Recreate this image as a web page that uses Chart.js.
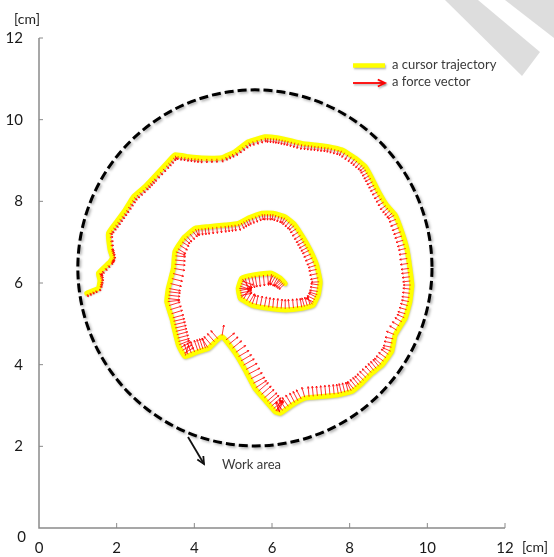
<!DOCTYPE html>
<html><head><meta charset="utf-8">
<script src="https://cdn.jsdelivr.net/npm/chart.js@4/dist/chart.umd.min.js"></script>
<style>html,body{margin:0;padding:0;background:#fff}#wrap{width:554px;height:557px;position:relative}</style>
</head><body><div id="wrap"><canvas id="c" width="554" height="557"></canvas></div>
<script>
// ---- data ----
const trajX = [1.23,1.53,1.57,1.53,1.83,1.89,1.83,1.79,2.00,2.22,2.43,2.73,2.94,3.25,3.50,3.85,4.19,4.71,5.05,5.39,5.82,6.12,6.42,6.77,7.11,7.45,7.80,8.14,8.40,8.57,8.74,8.95,9.17,9.34,9.47,9.55,9.60,9.55,9.43,9.17,9.08,8.83,8.57,8.31,8.05,7.71,7.28,6.85,6.51,6.21,6.08,5.86,5.56,5.31,5.05,4.71,4.36,4.10,3.76,3.59,3.50,3.42,3.29,3.33,3.46,3.50,3.72,4.02,4.36,4.79,5.13,5.39,5.74,6.03,6.34,6.59,6.81,6.98,7.15,7.24,7.19,7.06,6.77,6.34,5.91,5.48,5.18,5.13,5.22,5.56,5.99,6.21,6.34];
const trajY = [5.75,5.87,6.07,6.24,6.52,6.62,6.81,7.22,7.50,7.79,8.11,8.36,8.57,8.89,9.14,9.09,9.06,9.07,9.22,9.46,9.58,9.56,9.50,9.42,9.38,9.34,9.26,9.06,8.85,8.57,8.24,7.91,7.67,7.26,6.85,6.36,5.95,5.54,5.14,4.73,4.32,3.99,3.79,3.54,3.34,3.26,3.22,3.18,3.01,2.81,2.85,3.09,3.42,3.87,4.29,4.69,4.40,4.32,4.20,4.48,4.81,5.14,5.54,5.87,6.36,6.77,7.10,7.34,7.38,7.42,7.46,7.59,7.71,7.71,7.62,7.42,7.10,6.81,6.44,6.03,5.71,5.46,5.38,5.34,5.38,5.46,5.63,5.87,6.12,6.20,6.24,6.12,5.99];
// force magnitude (cm of arrow length) at each trajectory point, pointing inward
const forceMag = [0.10,0.09,0.10,0.11,0.10,0.09,0.10,0.11,
 0.12,0.12,0.13,0.12,0.12,0.13,0.12,0.12,0.13,0.12,0.12,0.13,
 0.14,0.15,0.15,0.16,0.15,0.15,0.16,
 0.18,0.18,0.19,0.18,0.20,0.21,
 0.22,0.22,0.23,0.22,0.22,0.23,0.24,
 0.25,0.26,0.25,0.26,0.27,
 0.28,0.28,0.29,0.30,0.30,
 0.34,0.35,0.36,0.35,0.33,0.30,
 0.30,0.31,0.30,
 0.31,0.32,0.32,0.33,0.32,0.30,0.28,
 0.22,0.20,0.20,0.19,0.19,0.18,
 0.18,0.18,0.19,0.20,
 0.22,0.22,0.23,0.23,0.24,0.25,
 0.26,0.27,0.28,0.28,0.30,
 0.34,0.34,0.32,0.30,0.26,0.22];
const xTicks = [0,2,4,6,8,10,12];
const yTicks = [0,2,4,6,8,10,12];
const workCenter = [5.56, 6.37];
const workRadius = [4.56, 4.36];
const legendLabels = ['a cursor trajectory', 'a force vector'];
const workLabel = 'Work area';
const unitLabel = '[cm]';

const FONT = 'Lato, "Open Sans", sans-serif';
const trajData = trajX.map((x, i) => ({x, y: trajY[i]}));

function arrow(ctx, x0, y0, x1, y1, head) {
  ctx.beginPath(); ctx.moveTo(x0, y0); ctx.lineTo(x1, y1); ctx.stroke();
  const a = Math.atan2(y1 - y0, x1 - x0);
  ctx.beginPath();
  ctx.moveTo(x1 - head * Math.cos(a - 0.45), y1 - head * Math.sin(a - 0.45));
  ctx.lineTo(x1, y1);
  ctx.lineTo(x1 - head * Math.cos(a + 0.45), y1 - head * Math.sin(a + 0.45));
  ctx.stroke();
}

const overlay = {
  id: 'overlay',
  beforeDatasetsDraw(chart) {
    const {ctx, chartArea: ca, scales: {x, y}} = chart;
    ctx.save();
    // axes
    ctx.strokeStyle = '#8a8a8a'; ctx.lineWidth = 1.5;
    ctx.beginPath(); ctx.moveTo(ca.left, ca.top); ctx.lineTo(ca.left, ca.bottom); ctx.lineTo(ca.right, ca.bottom); ctx.stroke();
    ctx.lineWidth = 1;
    xTicks.slice(1).forEach(v => { const p = x.getPixelForValue(v); ctx.beginPath(); ctx.moveTo(p, ca.bottom); ctx.lineTo(p, ca.bottom - 5); ctx.stroke(); });
    yTicks.slice(1).forEach(v => { const p = y.getPixelForValue(v); ctx.beginPath(); ctx.moveTo(ca.left, p); ctx.lineTo(ca.left + 4, p); ctx.stroke(); });
    // y "0" label sits a little below the axis in the reference
    ctx.fillStyle = '#1a1a1a'; ctx.font = '15px ' + FONT; ctx.textAlign = 'right'; ctx.textBaseline = 'middle';
    ctx.fillText(String(yTicks[0]), ca.left - 13, y.getPixelForValue(yTicks[0]) + 9);
    // work area circle
    const cx = x.getPixelForValue(workCenter[0]), cy = y.getPixelForValue(workCenter[1]);
    const rx = x.getPixelForValue(workCenter[0] + workRadius[0]) - cx;
    const ry = cy - y.getPixelForValue(workCenter[1] + workRadius[1]);
    ctx.setLineDash([9, 4]);
    ctx.lineWidth = 3;
    ctx.strokeStyle = '#000';
    ctx.shadowColor = 'rgba(0,0,0,0.35)'; ctx.shadowBlur = 3; ctx.shadowOffsetX = 1.5; ctx.shadowOffsetY = 1.5;
    ctx.beginPath(); ctx.ellipse(cx, cy, rx, ry, 0, 0, Math.PI * 2); ctx.stroke();
    ctx.restore();
  },
  beforeDatasetDraw(chart) {
    const ctx = chart.ctx;
    ctx.save();
    ctx.shadowColor = 'rgba(90,90,0,0.35)'; ctx.shadowBlur = 2; ctx.shadowOffsetX = 0.5; ctx.shadowOffsetY = 1;
  },
  afterDatasetDraw(chart) {
    chart.ctx.restore();
  },
  afterDatasetsDraw(chart) {
    const {ctx, chartArea: ca, scales: {x, y}} = chart;
    const unit = x.getPixelForValue(1) - x.getPixelForValue(0);
    const P = trajX.map((v, i) => [x.getPixelForValue(v), y.getPixelForValue(trajY[i])]);
    ctx.save();
    ctx.strokeStyle = 'rgba(255,0,0,0.8)'; ctx.lineWidth = 1;
    const n = P.length;
    const SUB = 4;
    for (let i = 0; i < n; i++) {
      const steps = i < n - 1 ? SUB : 1;
      for (let s = 0; s < steps; s++) {
        const t = s / SUB;
        let px, py, tx, ty, m;
        if (s === 0) {
          const a = P[Math.max(0, i - 1)], b = P[Math.min(n - 1, i + 1)];
          tx = b[0] - a[0]; ty = b[1] - a[1];
          px = P[i][0]; py = P[i][1]; m = forceMag[i];
        } else {
          const a = P[i], b = P[i + 1];
          tx = b[0] - a[0]; ty = b[1] - a[1];
          px = a[0] + tx * t; py = a[1] + ty * t;
          m = forceMag[i] * (1 - t) + forceMag[i + 1] * t;
        }
        const L = Math.hypot(tx, ty) || 1;
        const nx = -ty / L, ny = tx / L;
        const len = m * unit;
        arrow(ctx, px + nx, py + ny, px + nx * len, py + ny * len, 2);
      }
    }
    ctx.restore();

    // legend
    ctx.save();
    ctx.shadowColor = 'rgba(0,0,0,0.3)'; ctx.shadowBlur = 2; ctx.shadowOffsetX = 1; ctx.shadowOffsetY = 1.5;
    ctx.strokeStyle = '#ffff00'; ctx.lineWidth = 4.5;
    ctx.beginPath(); ctx.moveTo(353, 65.5); ctx.lineTo(385, 65.5); ctx.stroke();
    ctx.strokeStyle = '#ff0000'; ctx.lineWidth = 1.8;
    arrow(ctx, 353, 83, 385, 83, 8);
    ctx.restore();
    ctx.save();
    ctx.fillStyle = '#3a3a3a'; ctx.font = '13px ' + FONT; ctx.textBaseline = 'middle';
    ctx.fillText(legendLabels[0], 392, 65);
    ctx.fillText(legendLabels[1], 392, 82);
    // work area annotation
    ctx.strokeStyle = '#111'; ctx.lineWidth = 1.8;
    arrow(ctx, 188, 437, 204, 464, 8);
    ctx.fillText(workLabel, 222, 465);
    // units
    ctx.fillStyle = '#222'; ctx.font = '14px ' + FONT;
    ctx.textAlign = 'center';
    ctx.fillText(unitLabel, 27, 19);
    ctx.fillText(unitLabel, 535, 547);
    ctx.restore();
    // watermark shape
    ctx.save();
    ctx.fillStyle = 'rgba(180,180,180,0.45)';
    ctx.beginPath(); ctx.moveTo(445, 0); ctx.lineTo(478, 0); ctx.lineTo(540, 52); ctx.lineTo(522, 76); ctx.closePath(); ctx.fill();
    ctx.beginPath(); ctx.moveTo(505, 0); ctx.lineTo(554, 0); ctx.lineTo(554, 38); ctx.closePath(); ctx.fill();
    ctx.restore();
  }
};

new Chart(document.getElementById('c'), {
  type: 'scatter',
  data: {
    datasets: [{
      label: legendLabels[0],
      data: trajData,
      showLine: true,
      borderColor: '#ffff00',
      borderWidth: 5,
      pointRadius: 0,
      tension: 0.12,
      borderCapStyle: 'round',
      borderJoinStyle: 'round'
    }]
  },
  options: {
    responsive: false,
    animation: false,
    devicePixelRatio: 1,
    layout: {padding: {left: 0, top: 38, right: 49, bottom: 0}},
    plugins: {legend: {display: false}, tooltip: {enabled: false}},
    scales: {
      x: {
        type: 'linear', min: 0, max: 12,
        afterBuildTicks: s => { s.ticks = xTicks.map(v => ({value: v})); },
        afterFit: s => { s.height = 29; },
        grid: {display: false}, border: {display: false},
        ticks: {color: '#1a1a1a', font: {family: FONT, size: 15}, padding: 3, maxRotation: 0}
      },
      y: {
        type: 'linear', min: 0, max: 12,
        afterBuildTicks: s => { s.ticks = yTicks.map(v => ({value: v})); },
        afterFit: s => { s.width = 39; },
        grid: {display: false}, border: {display: false},
        ticks: {color: '#1a1a1a', font: {family: FONT, size: 15}, padding: 8,
          callback: v => (v === yTicks[0] ? '' : v)}
      }
    }
  },
  plugins: [overlay]
});
</script>
</body></html>
